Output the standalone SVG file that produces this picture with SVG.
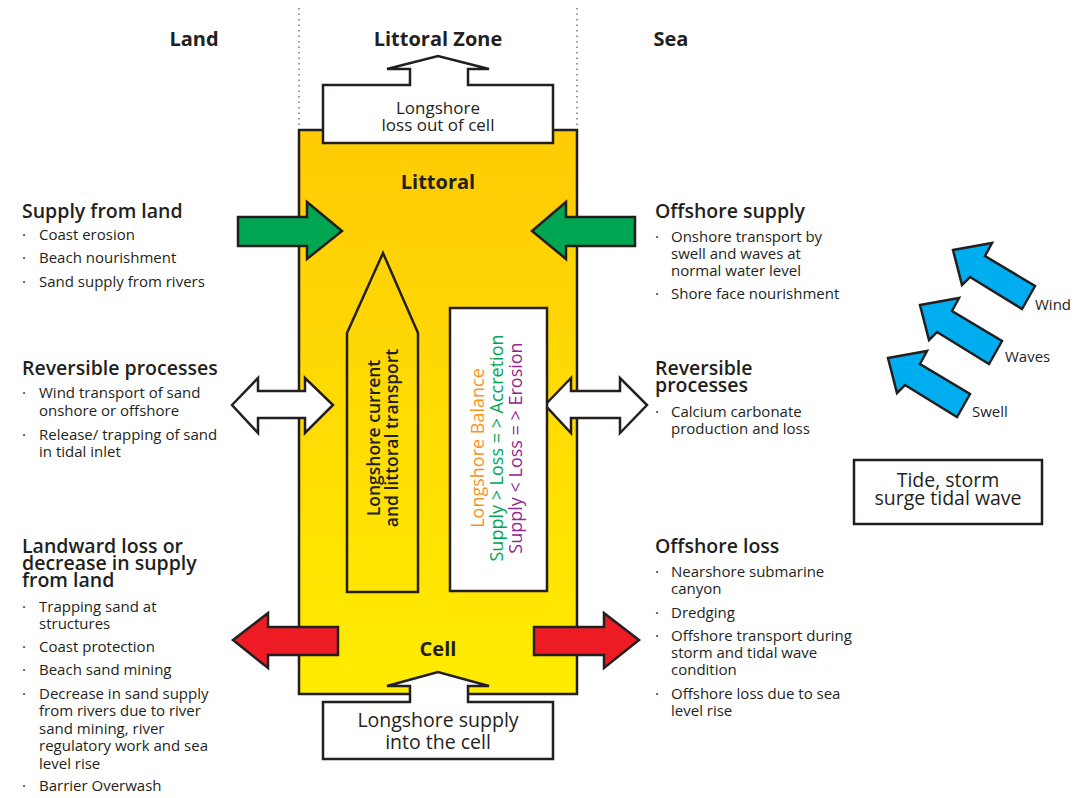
<svg xmlns="http://www.w3.org/2000/svg" width="1078" height="798" viewBox="0 0 1078 798">
<defs>
<linearGradient id="yel" x1="0" y1="0" x2="0" y2="1">
<stop offset="0" stop-color="#FFCB05"/>
<stop offset="1" stop-color="#FFEC00"/>
</linearGradient>
<style>
text{font-family:"Open Sans","Noto Sans","Liberation Sans",sans-serif;fill:#231F20}
.h{font-size:20px;font-weight:700}
.hd{font-size:19.5px;font-weight:600}
.b{font-size:15px}
.lbl{font-size:17px;text-anchor:middle}
.big{font-size:19.5px;text-anchor:middle}
.ln{stroke:#231F20;stroke-width:2.5;stroke-linejoin:miter}
.dot{stroke:#777;stroke-width:1.5;stroke-dasharray:1.5,4;fill:none}
.g{fill:#00A651}
.r{fill:#ED1C24}
.w{fill:#FFFFFF}
.bl{fill:#00AEEF}
</style>
</defs>
<rect width="1078" height="798" fill="#FFFFFF"/>
<g id="zones">
<line class="dot" x1="299" y1="8" x2="299" y2="128"/>
<line class="dot" x1="577" y1="8" x2="577" y2="128"/>
<text class="h" x="194" y="46" text-anchor="middle">Land</text>
<text class="h" x="438" y="46" text-anchor="middle">Littoral Zone</text>
<text class="h" x="671" y="46" text-anchor="middle">Sea</text>
</g>
<g id="cell">
<rect x="299" y="130" width="278" height="564" fill="url(#yel)" class="ln" stroke-width="3"/>
<text class="h" x="438" y="189" text-anchor="middle">Littoral</text>
<text class="h" x="438" y="656" text-anchor="middle">Cell</text>
</g>
<g id="connectors">
<polygon class="ln g" points="238,217 307,217 307,202 342,231 307,259 307,246 238,246"/>
<polygon class="ln g" points="635,217 566,217 566,202 532,231 566,259 566,246 635,246"/>
<polygon class="ln w" points="232,405 258,378 258,391 305,391 305,378 333,405 305,433 305,418 258,418 258,433"/>
<polygon class="ln w" points="545,405 571,378 571,391 620,391 620,378 647,405 620,433 620,418 571,418 571,433"/>
<polygon class="ln r" points="233,640 268,613 268,627 338,627 338,655 268,655 268,668"/>
<polygon class="ln r" points="639,640 604,613 604,627 534,627 534,655 604,655 604,668"/>
</g>
<g id="loss-out">
<polygon class="ln w" points="323,143 323,85 410,85 410,69 387,69 438,56 489,69 468,69 468,85 553,85 553,143"/>
<text class="lbl" x="438" y="114">Longshore</text>
<text class="lbl" x="438" y="131">loss out of cell</text>
</g>
<g id="supply-in">
<polygon class="ln w" points="323,702 410,702 410,686 387,686 438,672 489,686 468,686 468,702 553,702 553,759 323,759"/>
<text class="big" x="438" y="727">Longshore supply</text>
<text class="big" x="438" y="749">into the cell</text>
</g>
<g id="longshore-transport">
<polygon class="ln" fill="none" points="347,592 347,333 383,253 418,333 418,592"/>
<text transform="translate(380,438) rotate(-90)" text-anchor="middle" style="font-size:17.5px;font-weight:600">Longshore current</text>
<text transform="translate(398,438) rotate(-90)" text-anchor="middle" style="font-size:17.5px;font-weight:600">and littoral transport</text>
</g>
<g id="balance">
<rect x="450" y="308" width="97" height="283" class="ln w"/>
<text transform="translate(484,448) rotate(-90)" text-anchor="middle" style="font-size:18px;fill:#F7941D">Longshore Balance</text>
<text transform="translate(503,448) rotate(-90)" text-anchor="middle" style="font-size:18px;fill:#00A651">Supply &gt; Loss = &gt; Accretion</text>
<text transform="translate(522,448) rotate(-90)" text-anchor="middle" style="font-size:18px;fill:#92278F">Supply &lt; Loss = &gt; Erosion</text>
</g>
<g id="supply-from-land">
<text class="hd" x="22" y="218">Supply from land</text>
<text class="b" x="22" y="240">·</text><text class="b" x="39" y="240">Coast erosion</text>
<text class="b" x="22" y="263">·</text><text class="b" x="39" y="263">Beach nourishment</text>
<text class="b" x="22" y="287">·</text><text class="b" x="39" y="287">Sand supply from rivers</text>
</g>
<g id="reversible-land">
<text class="hd" x="22" y="375">Reversible processes</text>
<text class="b" x="22" y="398">·</text><text class="b" x="39" y="398">Wind transport of sand</text>
<text class="b" x="39" y="416">onshore or offshore</text>
<text class="b" x="22" y="440">·</text><text class="b" x="39" y="440">Release/ trapping of sand</text>
<text class="b" x="39" y="457">in tidal inlet</text>
</g>
<g id="landward-loss">
<text class="hd" x="22" y="553">Landward loss or</text>
<text class="hd" x="22" y="570">decrease in supply</text>
<text class="hd" x="22" y="587">from land</text>
<text class="b" x="22" y="612">·</text><text class="b" x="39" y="612">Trapping sand at</text>
<text class="b" x="39" y="629">structures</text>
<text class="b" x="22" y="652">·</text><text class="b" x="39" y="652">Coast protection</text>
<text class="b" x="22" y="675">·</text><text class="b" x="39" y="675">Beach sand mining</text>
<text class="b" x="22" y="699">·</text><text class="b" x="39" y="699">Decrease in sand supply</text>
<text class="b" x="39" y="716">from rivers due to river</text>
<text class="b" x="39" y="734">sand mining, river</text>
<text class="b" x="39" y="751">regulatory work and sea</text>
<text class="b" x="39" y="769">level rise</text>
<text class="b" x="22" y="791">·</text><text class="b" x="39" y="791">Barrier Overwash</text>
</g>
<g id="offshore-supply">
<text class="hd" x="655" y="218">Offshore supply</text>
<text class="b" x="655" y="242">·</text><text class="b" x="671" y="242">Onshore transport by</text>
<text class="b" x="671" y="259">swell and waves at</text>
<text class="b" x="671" y="276">normal water level</text>
<text class="b" x="655" y="299">·</text><text class="b" x="671" y="299">Shore face nourishment</text>
</g>
<g id="reversible-sea">
<text class="hd" x="655" y="375">Reversible</text>
<text class="hd" x="655" y="392">processes</text>
<text class="b" x="655" y="417">·</text><text class="b" x="671" y="417">Calcium carbonate</text>
<text class="b" x="671" y="434">production and loss</text>
</g>
<g id="offshore-loss">
<text class="hd" x="655" y="553">Offshore loss</text>
<text class="b" x="655" y="577">·</text><text class="b" x="671" y="577">Nearshore submarine</text>
<text class="b" x="671" y="594">canyon</text>
<text class="b" x="655" y="618">·</text><text class="b" x="671" y="618">Dredging</text>
<text class="b" x="655" y="641">·</text><text class="b" x="671" y="641">Offshore transport during</text>
<text class="b" x="671" y="658">storm and tidal wave</text>
<text class="b" x="671" y="675">condition</text>
<text class="b" x="655" y="699">·</text><text class="b" x="671" y="699">Offshore loss due to sea</text>
<text class="b" x="671" y="716">level rise</text>
</g>
<g id="forcing">
<polygon id="wind-arrow" class="ln bl" points="953,250 992,243 985,256 1035,286 1022,309 970,277 962,285"/>
<polygon id="waves-arrow" class="ln bl" points="953,250 992,243 985,256 1035,286 1022,309 970,277 962,285" transform="translate(-33,55)"/>
<polygon id="swell-arrow" class="ln bl" points="953,250 992,243 985,256 1035,286 1022,309 970,277 962,285" transform="translate(-65,108)"/>
<text class="b" x="1035" y="310">Wind</text>
<text class="b" x="1005" y="362">Waves</text>
<text class="b" x="972" y="417">Swell</text>
</g>
<g id="tide">
<rect x="854" y="460" width="188" height="64" class="ln w"/>
<text class="big" x="948" y="487">Tide, storm</text>
<text class="big" x="948" y="505">surge tidal wave</text>
</g>
</svg>
